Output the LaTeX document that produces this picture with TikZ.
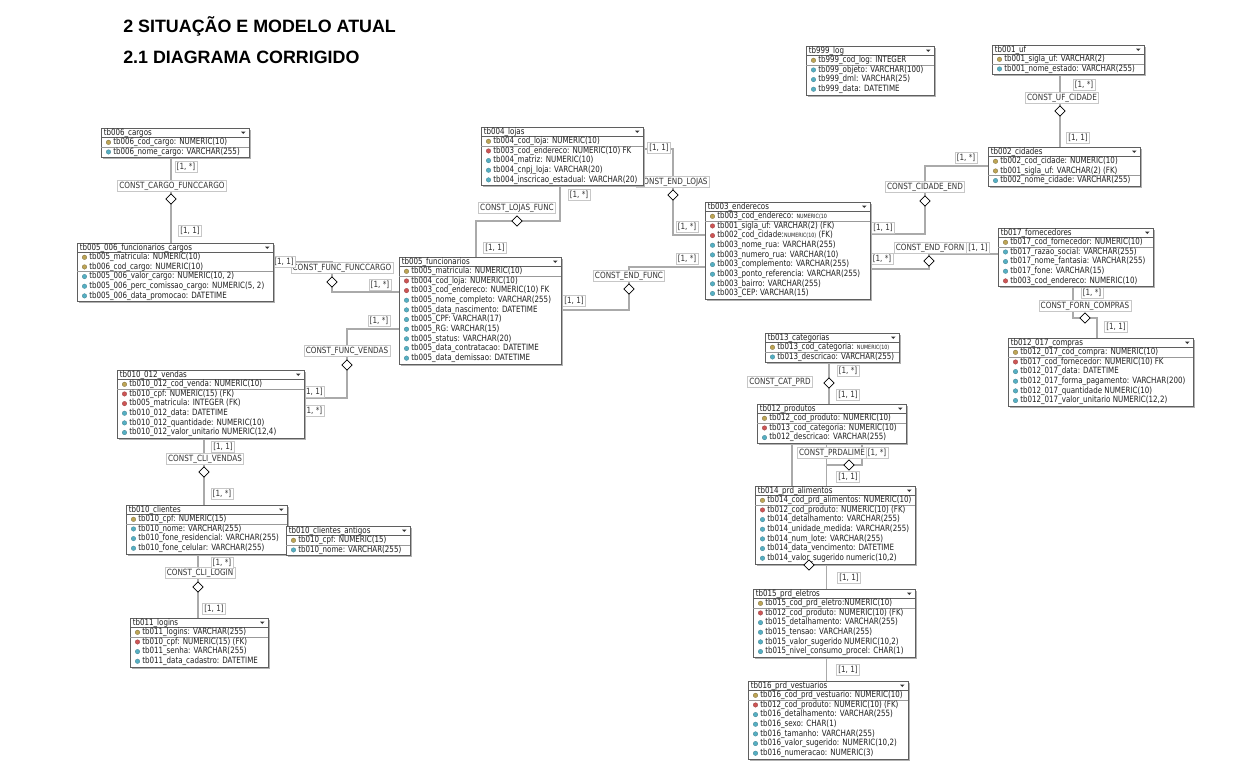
\documentclass[tikz,border=0pt]{standalone}
\usepackage{fontspec}
\usetikzlibrary{shapes.geometric}
\pgfdeclarelayer{bg}
\pgfsetlayers{bg,main}
\newfontfamily\erfont[FakeStretch=0.82]{DejaVu Sans}
\newfontfamily\erlabfont[FakeStretch=0.85]{DejaVu Sans}
\newfontfamily\ttlfont{Liberation Sans}
\newcommand\ersm{\fontsize{4.4}{5}\selectfont}
\newcount\erRowNo
\definecolor{erkeyc}{RGB}{190,165,85}
\definecolor{erfkc}{RGB}{205,85,85}
\definecolor{erattc}{RGB}{85,175,195}
\definecolor{erlinec}{RGB}{170,170,170}
\definecolor{erborder}{RGB}{95,95,95}
\tikzset{
  ertxt/.style={font=\erfont\fontsize{6.5}{7.5}\selectfont, text=black!88, inner sep=0pt, anchor=west, text height=4.7pt, text depth=1.3pt},
  erbox/.style={rectangle, draw=erborder, line width=0.6pt, fill=white, inner sep=0pt, outer sep=0pt},
  ershadow/.style={fill=black!30},
  ersepline/.style={draw=black!40, line width=0.5pt},
  erkey/.style={circle, fill=erkeyc, draw=erkeyc!60!black, line width=0.2pt, minimum size=3.4pt, inner sep=0pt},
  erfk/.style={circle, fill=erfkc, draw=erfkc!70!black, line width=0.2pt, minimum size=3.4pt, inner sep=0pt},
  eratt/.style={circle, fill=erattc, draw=erattc!70!black, line width=0.2pt, minimum size=3.4pt, inner sep=0pt},
  erconn/.style={draw=erlinec, line width=1pt},
  ercard/.style={font=\erlabfont\fontsize{6.4}{7.5}\selectfont, text=black!80, draw=black!22, fill=white, inner sep=1.3pt, line width=0.5pt, text height=4.7pt, text depth=1.3pt},
  erdia/.style={diamond, draw=black, fill=white, line width=0.6pt, minimum width=8pt, minimum height=8pt, inner sep=0pt},
  ertitlefont/.style={font=\ttlfont\bfseries\fontsize{13.4}{16}\selectfont, inner sep=0pt, anchor=base west}
}
\newcommand\erTab[6]{%
  \pgfmathsetmacro\erBot{#3+9.5+#5*9.65+1}%
  \pgfmathsetmacro\erWd{(#4-#2)*0.75}%
  \pgfmathsetmacro\erHt{(\erBot-#3)*0.75}%
  \fill[ershadow] (#2+1.6,#3+1.6) rectangle (#4+1.6,\erBot+1.6);%
  \node[erbox, minimum width=\erWd pt, minimum height=\erHt pt, anchor=north west] (#1) at (#2,#3) {};%
  \draw[erborder, line width=0.5pt] (#2,#3+9.5) -- (#4,#3+9.5);%
  \node[ertxt] (#1-h) at (#2+2.5,#3+4.9) {#6};%
  \fill[black!80] (#4-8,#3+3.6) -- (#4-3.5,#3+3.6) -- (#4-5.75,#3+6) -- cycle;%
  \xdef\erL{#2}\xdef\erT{#3}\xdef\erR{#4}\xdef\erN{#1}\global\erRowNo=0\relax}
\newcommand\erRow[2]{%
  \global\advance\erRowNo by 1\relax
  \pgfmathsetmacro\erRY{\erT+14.3+(\the\erRowNo-1)*9.65}%
  \node[er#1] (\erN-i\the\erRowNo) at (\erL+7.5,\erRY) {};%
  \node[ertxt] (\erN-r\the\erRowNo) at (\erL+12,\erRY) {#2};}
\newcommand\erSep{%
  \pgfmathsetmacro\erSY{\erT+9.5+\the\erRowNo*9.65}%
  \draw[ersepline] (\erL,\erSY) -- (\erR,\erSY);}
\newcommand\erCard[3]{\node[ercard] (#1) at (#2) {#3};}
\begin{document}
\begin{tikzpicture}[x=0.75pt, y=-0.75pt]
\useasboundingbox (0,0) rectangle (1256,770);
\begin{pgfonlayer}{bg}
\fill[white] (0,0) rectangle (1256,770);
\end{pgfonlayer}

% titles
\node[ertitlefont] (title1) at (123,32.5) {2 SITUAÇÃO E MODELO ATUAL};
\node[ertitlefont] (title2) at (123,63.5) {2.1 DIAGRAMA CORRIGIDO};

% ================= tables =================
\erTab{tb999}{806}{46}{934}{4}{tb999\_log}
\erRow{key}{tb999\_cod\_log: INTEGER}\erSep
\erRow{att}{tb099\_objeto: VARCHAR(100)}
\erRow{att}{tb999\_dml: VARCHAR(25)}
\erRow{att}{tb999\_data: DATETIME}

\erTab{tb001}{992}{45}{1144}{2}{tb001\_uf}
\erRow{key}{tb001\_sigla\_uf: VARCHAR(2)}\erSep
\erRow{att}{tb001\_nome\_estado: VARCHAR(255)}

\erTab{tb002}{988}{147}{1140}{3}{tb002\_cidades}
\erRow{key}{tb002\_cod\_cidade: NUMERIC(10)}
\erRow{key}{tb001\_sigla\_uf: VARCHAR(2) (FK)}\erSep
\erRow{att}{tb002\_nome\_cidade: VARCHAR(255)}

\erTab{tb006}{101}{128}{249}{2}{tb006\_cargos}
\erRow{key}{tb006\_cod\_cargo: NUMERIC(10)}\erSep
\erRow{att}{tb006\_nome\_cargo: VARCHAR(255)}

\erTab{tb005_006}{77}{243}{273}{5}{tb005\_006\_funcionarios\_cargos}
\erRow{key}{tb005\_matricula: NUMERIC(10)}
\erRow{key}{tb006\_cod\_cargo: NUMERIC(10)}\erSep
\erRow{att}{tb005\_006\_valor\_cargo: NUMERIC(10, 2)}
\erRow{att}{tb005\_006\_perc\_comissao\_cargo: NUMERIC(5, 2)}
\erRow{att}{tb005\_006\_data\_promocao: DATETIME}

\erTab{tb004}{481}{127}{643}{5}{tb004\_lojas}
\erRow{key}{tb004\_cod\_loja: NUMERIC(10)}\erSep
\erRow{fk}{tb003\_cod\_endereco: NUMERIC(10) FK}
\erRow{att}{tb004\_matriz: NUMERIC(10)}
\erRow{att}{tb004\_cnpj\_loja: VARCHAR(20)}
\erRow{att}{tb004\_inscricao\_estadual: VARCHAR(20)}

\erTab{tb005}{399}{257}{561}{10}{tb005\_funcionarios}
\erRow{key}{tb005\_matricula: NUMERIC(10)}\erSep
\erRow{fk}{tb004\_cod\_loja: NUMERIC(10)}
\erRow{fk}{tb003\_cod\_endereco: NUMERIC(10) FK}
\erRow{att}{tb005\_nome\_completo: VARCHAR(255)}
\erRow{att}{tb005\_data\_nascimento: DATETIME}
\erRow{att}{tb005\_CPF: VARCHAR(17)}
\erRow{att}{tb005\_RG: VARCHAR(15)}
\erRow{att}{tb005\_status: VARCHAR(20)}
\erRow{att}{tb005\_data\_contratacao: DATETIME}
\erRow{att}{tb005\_data\_demissao: DATETIME}

\erTab{tb003}{705}{202}{870}{9}{tb003\_enderecos}
\erRow{key}{tb003\_cod\_endereco: {\ersm NUMERIC(10}}\erSep
\erRow{fk}{tb001\_sigla\_uf: VARCHAR(2) (FK)}
\erRow{fk}{tb002\_cod\_cidade:{\ersm NUMERIC(10)} (FK)}
\erRow{att}{tb003\_nome\_rua: VARCHAR(255)}
\erRow{att}{tb003\_numero\_rua: VARCHAR(10)}
\erRow{att}{tb003\_complemento: VARCHAR(255)}
\erRow{att}{tb003\_ponto\_referencia: VARCHAR(255)}
\erRow{att}{tb003\_bairro: VARCHAR(255)}
\erRow{att}{tb003\_CEP: VARCHAR(15)}

\erTab{tb017}{998}{228}{1153}{5}{tb017\_fornecedores}
\erRow{key}{tb017\_cod\_fornecedor: NUMERIC(10)}\erSep
\erRow{att}{tb017\_razao\_social: VARCHAR(255)}
\erRow{att}{tb017\_nome\_fantasia: VARCHAR(255)}
\erRow{att}{tb017\_fone: VARCHAR(15)}
\erRow{fk}{tb003\_cod\_endereco: NUMERIC(10)}

\erTab{tb012_017}{1008}{338}{1193}{6}{tb012\_017\_compras}
\erRow{key}{tb012\_017\_cod\_compra: NUMERIC(10)}\erSep
\erRow{fk}{tb017\_cod\_fornecedor: NUMERIC(10) FK}
\erRow{att}{tb012\_017\_data: DATETIME}
\erRow{att}{tb012\_017\_forma\_pagamento: VARCHAR(200)}
\erRow{att}{tb012\_017\_quantidade NUMERIC(10)}
\erRow{att}{tb012\_017\_valor\_unitario NUMERIC(12,2)}

\erTab{tb010_012}{117}{370}{304}{6}{tb010\_012\_vendas}
\erRow{key}{tb010\_012\_cod\_venda: NUMERIC(10)}\erSep
\erRow{fk}{tb010\_cpf: NUMERIC(15) (FK)}
\erRow{fk}{tb005\_matricula: INTEGER (FK)}
\erRow{att}{tb010\_012\_data: DATETIME}
\erRow{att}{tb010\_012\_quantidade: NUMERIC(10)}
\erRow{att}{tb010\_012\_valor\_unitario NUMERIC(12,4)}

\erTab{tb010cli}{126}{505}{287}{4}{tb010\_clientes}
\erRow{key}{tb010\_cpf: NUMERIC(15)}\erSep
\erRow{att}{tb010\_nome: VARCHAR(255)}
\erRow{att}{tb010\_fone\_residencial: VARCHAR(255)}
\erRow{att}{tb010\_fone\_celular: VARCHAR(255)}

\erTab{tb010ant}{286}{526}{410}{2}{tb010\_clientes\_antigos}
\erRow{key}{tb010\_cpf: NUMERIC(15)}\erSep
\erRow{att}{tb010\_nome: VARCHAR(255)}

\erTab{tb011}{130}{618}{268}{4}{tb011\_logins}
\erRow{key}{tb011\_logins: VARCHAR(255)}\erSep
\erRow{fk}{tb010\_cpf: NUMERIC(15) (FK)}
\erRow{att}{tb011\_senha: VARCHAR(255)}
\erRow{att}{tb011\_data\_cadastro: DATETIME}

\erTab{tb013}{765}{333}{899}{2}{tb013\_categorias}
\erRow{key}{tb013\_cod\_categoria: {\ersm NUMERIC(10)}}\erSep
\erRow{att}{tb013\_descricao: VARCHAR(255)}

\erTab{tb012p}{757}{404}{906}{3}{tb012\_produtos}
\erRow{key}{tb012\_cod\_produto: NUMERIC(10)}\erSep
\erRow{fk}{tb013\_cod\_categoria: NUMERIC(10)}
\erRow{att}{tb012\_descricao: VARCHAR(255)}

\erTab{tb014}{755}{486}{915}{7}{tb014\_prd\_alimentos}
\erRow{key}{tb014\_cod\_prd\_alimentos: NUMERIC(10)}\erSep
\erRow{fk}{tb012\_cod\_produto: NUMERIC(10) (FK)}
\erRow{att}{tb014\_detalhamento: VARCHAR(255)}
\erRow{att}{tb014\_unidade\_medida: VARCHAR(255)}
\erRow{att}{tb014\_num\_lote: VARCHAR(255)}
\erRow{att}{tb014\_data\_vencimento: DATETIME}
\erRow{att}{tb014\_valor\_sugerido numeric(10,2)}

\erTab{tb015}{753}{589}{915}{6}{tb015\_prd\_eletros}
\erRow{key}{tb015\_cod\_prd\_eletro:NUMERIC(10)}\erSep
\erRow{fk}{tb012\_cod\_produto: NUMERIC(10) (FK)}
\erRow{att}{tb015\_detalhamento: VARCHAR(255)}
\erRow{att}{tb015\_tensao: VARCHAR(255)}
\erRow{att}{tb015\_valor\_sugerido NUMERIC(10,2)}
\erRow{att}{tb015\_nivel\_consumo\_procel: CHAR(1)}

\erTab{tb016}{748}{681}{908}{7}{tb016\_prd\_vestuarios}
\erRow{key}{tb016\_cod\_prd\_vestuario: NUMERIC(10)}\erSep
\erRow{fk}{tb012\_cod\_produto: NUMERIC(10) (FK)}
\erRow{att}{tb016\_detalhamento: VARCHAR(255)}
\erRow{att}{tb016\_sexo: CHAR(1)}
\erRow{att}{tb016\_tamanho: VARCHAR(255)}
\erRow{att}{tb016\_valor\_sugerido: NUMERIC(10,2)}
\erRow{att}{tb016\_numeracao: NUMERIC(3)}

% ================= connectors (behind tables) =================
\begin{pgfonlayer}{bg}
\coordinate (d1) at (171,199);
\coordinate (a2) at (332,262); \coordinate (b2) at (332,292);
\coordinate (a3) at (347,329); \coordinate (b3) at (347,398);
\coordinate (a4) at (560,221); \coordinate (b4) at (476,221);
\coordinate (a5) at (673,149); \coordinate (b5) at (673,235);
\coordinate (a6) at (629,310); \coordinate (b6) at (629,267);
\coordinate (a7) at (925,166); \coordinate (b7) at (925,234);
\coordinate (a8) at (929,254); \coordinate (b8) at (929,269);
\coordinate (d9) at (1060,111);
\coordinate (a10) at (1073,318); \coordinate (b10) at (1097,318);
\coordinate (d11) at (204,472);
\coordinate (d12) at (198,587);
\coordinate (d13) at (829,383);
\coordinate (a14) at (862,465); \coordinate (b14) at (826.5,465);
\coordinate (a15) at (792,565); \coordinate (b15) at (826.5,565);

\draw[erconn] (tb006.south -| d1) -- (tb005_006.north -| d1);
\draw[erconn] (tb005_006.east |- a2) -- (a2) -- (b2) -- (tb005.west |- b2);
\draw[erconn] (tb005.west |- a3) -- (a3) -- (b3) -- (tb010_012.east |- b3);
\draw[erconn] (tb004.south -| a4) -- (a4) -- (b4) -- (tb005.north -| b4);
\draw[erconn] (tb004.east |- a5) -- (a5) -- (b5) -- (tb003.west |- b5);
\draw[erconn] (tb005.east |- a6) -- (a6) -- (b6) -- (tb003.west |- b6);
\draw[erconn] (tb002.west |- a7) -- (a7) -- (b7) -- (tb003.east |- b7);
\draw[erconn] (tb017.west |- a8) -- (a8) -- (b8) -- (tb003.east |- b8);
\draw[erconn] (tb001.south -| d9) -- (tb002.north -| d9);
\draw[erconn] (tb017.south -| a10) -- (a10) -- (b10) -- (tb012_017.north -| b10);
\draw[erconn] (tb010_012.south -| d11) -- (tb010cli.north -| d11);
\draw[erconn] (tb010cli.south -| d12) -- (tb011.north -| d12);
\draw[erconn] (tb013.south -| d13) -- (tb012p.north -| d13);
\draw[erconn] (tb012p.south -| a14) -- (a14) -- (b14) -- (tb014.north -| b14);
\draw[erconn] (tb012p.south -| a15) -- (a15) -- (b15) -- (tb015.north -| b15);
\draw[erconn] (tb012p.south -| b15) -- (tb016.north -| b15);

% relationship names
\node[ercard] (n1) at (172,186) {CONST\_CARGO\_FUNCCARGO};
\node[ercard] (n2) at (342,268) {CONST\_FUNC\_FUNCCARGO};
\node[ercard] (n3) at (347,351) {CONST\_FUNC\_VENDAS};
\node[ercard] (n4) at (517,208) {CONST\_LOJAS\_FUNC};
\node[ercard] (n5) at (673,182) {CONST\_END\_LOJAS};
\node[ercard] (n6) at (629,276) {CONST\_END\_FUNC};
\node[ercard] (n7) at (925,187) {CONST\_CIDADE\_END};
\node[ercard] (n8) at (930,248) {CONST\_END\_FORN};
\node[ercard] (n9) at (1062,98) {CONST\_UF\_CIDADE};
\node[ercard] (n10) at (1085,306) {CONST\_FORN\_COMPRAS};
\node[ercard] (n11) at (205,459) {CONST\_CLI\_VENDAS};
\node[ercard] (n12) at (200,573) {CONST\_CLI\_LOGIN};
\node[ercard] (n13) at (780,382) {CONST\_CAT\_PRD};
\node[ercard] (n14) at (832,453) {CONST\_PRDALIME};

% cardinalities
\erCard{c1}{186,167}{[1, *]}
\erCard{c2}{190,231}{[1, 1]}
\erCard{c3}{284,262}{[1, 1]}
\erCard{c4}{380,285}{[1, *]}
\erCard{c5}{379,321}{[1, *]}
\erCard{c6}{313,392}{[1, 1]}
\erCard{c7}{313,411}{[1, *]}
\erCard{c8}{579,195}{[1, *]}
\erCard{c9}{495,248}{[1, 1]}
\erCard{c10}{659,148}{[1, 1]}
\erCard{c11}{687,227}{[1, *]}
\erCard{c12}{574,301}{[1, 1]}
\erCard{c13}{687,259}{[1, *]}
\erCard{c14}{966,158}{[1, *]}
\erCard{c15}{883,228}{[1, 1]}
\erCard{c16}{978,248}{[1, 1]}
\erCard{c17}{882,259}{[1, *]}
\erCard{c18}{1084,85}{[1, *]}
\erCard{c19}{1078,138}{[1, 1]}
\erCard{c20}{1092,293}{[1, *]}
\erCard{c21}{1116,327}{[1, 1]}
\erCard{c22}{223,447}{[1, 1]}
\erCard{c23}{222,494}{[1, *]}
\erCard{c24}{222,563}{[1, *]}
\erCard{c25}{214,609}{[1, 1]}
\erCard{c26}{848,371}{[1, *]}
\erCard{c27}{848,395}{[1, 1]}
\erCard{c28}{877,453}{[1, *]}
\erCard{c29}{848,477}{[1, 1]}
\erCard{c30}{849,578}{[1, 1]}
\erCard{c31}{848,670}{[1, 1]}

% diamonds
\node[erdia] (dm1) at (d1) {};
\node[erdia] (dm2) at (332,282) {};
\node[erdia] (dm3) at (347,365) {};
\node[erdia] (dm4) at (517,221) {};
\node[erdia] (dm5) at (673,195) {};
\node[erdia] (dm6) at (629,289) {};
\node[erdia] (dm7) at (925,201) {};
\node[erdia] (dm8) at (929,261) {};
\node[erdia] (dm9) at (d9) {};
\node[erdia] (dm10) at (1085,318) {};
\node[erdia] (dm11) at (d11) {};
\node[erdia] (dm12) at (d12) {};
\node[erdia] (dm13) at (d13) {};
\node[erdia] (dm14) at (849,465) {};
\end{pgfonlayer}
\node[erdia] (dm15) at (809,565) {};
\end{tikzpicture}
\end{document}
